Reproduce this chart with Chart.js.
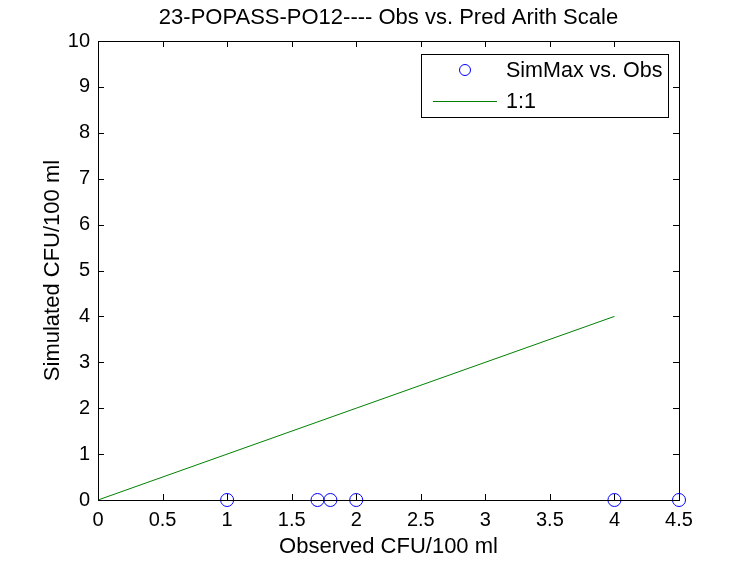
<!DOCTYPE html>
<html>
<head>
<meta charset="utf-8">
<script src="https://cdn.jsdelivr.net/npm/chart.js@4.4.0/dist/chart.umd.min.js"></script>
<style>
  html, body { margin: 0; padding: 0; background: #fff; }
  #wrap { width: 750px; height: 563px; }
</style>
</head>
<body>
<div id="wrap"><canvas id="chart" width="750" height="563"></canvas></div>
<script>
// values
const obsX = [1, 1.7, 1.8, 2, 4, 4.5];
const simY = [0, 0, 0, 0, 0, 0];
const oneX = [0, 4];
const oneY = [0, 4];

const titleText = '23-POPASS-PO12---- Obs vs. Pred Arith Scale';
const xLabel = 'Observed CFU/100 ml';
const yLabel = 'Simulated CFU/100 ml';
const seriesNames = ['SimMax vs. Obs', '1:1'];

const FONT = 'Liberation Sans, Arial, sans-serif';

function pts(xs, ys) {
    return xs.map((x, i) => ({x: x, y: ys[i]}));
}

// matlab style box with ticks pointing in
const boxPlugin = {
    id: 'box',
    afterDatasetsDraw(chart) {
        const ctx = chart.ctx;
        const a = chart.chartArea;
        const tl = 6;
        ctx.save();
        ctx.strokeStyle = '#000';
        ctx.lineWidth = 1;
        ctx.beginPath();
        chart.scales.x.ticks.forEach(t => {
            const px = Math.round(chart.scales.x.getPixelForValue(t.value)) + 0.5;
            ctx.moveTo(px, a.bottom); ctx.lineTo(px, a.bottom - tl);
            ctx.moveTo(px, a.top); ctx.lineTo(px, a.top + tl);
        });
        chart.scales.y.ticks.forEach(t => {
            const py = Math.round(chart.scales.y.getPixelForValue(t.value)) + 0.5;
            ctx.moveTo(a.left, py); ctx.lineTo(a.left + tl, py);
            ctx.moveTo(a.right, py); ctx.lineTo(a.right - tl, py);
        });
        ctx.stroke();
        ctx.strokeRect(Math.round(a.left) + 0.5, Math.round(a.top) + 0.5,
            Math.round(a.right - a.left), Math.round(a.bottom - a.top));
        ctx.restore();
    }
};

// legend box in the upper right
const legendPlugin = {
    id: 'mlegend',
    afterDraw(chart) {
        const ctx = chart.ctx;
        const ds = chart.data.datasets;
        const bx = 421.5, by = 54.5, bw = 247, bh = 63;
        ctx.save();
        ctx.fillStyle = '#fff';
        ctx.fillRect(bx, by, bw, bh);
        ctx.strokeStyle = '#000';
        ctx.lineWidth = 1;
        ctx.strokeRect(bx, by, bw, bh);

        ctx.strokeStyle = ds[0].borderColor;
        ctx.beginPath();
        ctx.arc(465, 70, 5.5, 0, Math.PI * 2);
        ctx.stroke();

        ctx.strokeStyle = ds[1].borderColor;
        ctx.beginPath();
        ctx.moveTo(433, 101.5);
        ctx.lineTo(497, 101.5);
        ctx.stroke();

        ctx.fillStyle = '#000';
        ctx.font = '21.5px ' + FONT;
        ctx.textBaseline = 'middle';
        ctx.fillText(ds[0].label, 506, 71);
        ctx.fillText(ds[1].label, 506, 102);
        ctx.restore();
    }
};

const ctx = document.getElementById('chart').getContext('2d');
const chart = new Chart(ctx, {
    type: 'scatter',
    data: {
        datasets: [{
            label: seriesNames[0],
            data: pts(obsX, simY),
            showLine: false,
            pointStyle: 'circle',
            pointRadius: 6.5,
            pointBorderWidth: 1,
            borderColor: 'rgb(0, 0, 255)',
            backgroundColor: 'rgba(0, 0, 0, 0)',
            clip: false
        }, {
            label: seriesNames[1],
            data: pts(oneX, oneY),
            showLine: true,
            pointRadius: 0,
            borderWidth: 1,
            borderColor: 'rgb(0, 128, 0)',
            backgroundColor: 'rgb(0, 128, 0)',
            tension: 0
        }]
    },
    options: {
        responsive: false,
        animation: false,
        layout: { padding: { left: 0, right: 71, top: 0, bottom: 0 } },
        plugins: {
            legend: { display: false },
            tooltip: { enabled: false },
            title: {
                display: true,
                text: titleText,
                fullSize: false,
                color: '#000',
                font: { family: FONT, size: 22, weight: 'normal' },
                padding: { top: 5, bottom: 9.6 }
            }
        },
        scales: {
            x: {
                type: 'linear',
                min: 0,
                max: 4.5,
                ticks: { stepSize: 0.5, color: '#000', padding: 8,
                    font: { family: FONT, size: 20 },
                    callback: v => String(v) },
                grid: { display: false, drawTicks: false },
                border: { display: false },
                title: { display: true, text: xLabel, color: '#000',
                    font: { family: FONT, size: 22 }, padding: { top: 0, bottom: 3 } },
                afterFit(s) { s.height = 63; }
            },
            y: {
                type: 'linear',
                min: 0,
                max: 10,
                ticks: { stepSize: 1, color: '#000', padding: 8,
                    font: { family: FONT, size: 20 },
                    callback: v => String(v) },
                grid: { display: false, drawTicks: false },
                border: { display: false },
                title: { display: true, text: yLabel, color: '#000',
                    font: { family: FONT, size: 22 }, padding: { top: 40, bottom: 0 } },
                afterFit(s) { s.width = 98; }
            }
        }
    },
    plugins: [boxPlugin, legendPlugin]
});
</script>
</body>
</html>
